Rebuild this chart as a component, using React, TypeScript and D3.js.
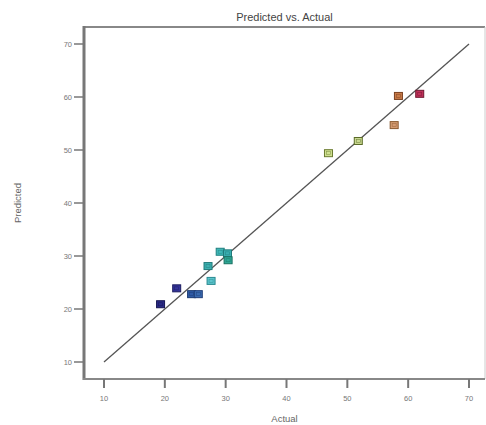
import React from "react";
import * as d3 from "d3";

const actual = [19.3, 21.95, 24.4, 25.5, 27.6, 27.1, 29.1, 30.3, 30.4, 46.9, 51.8, 57.7, 58.4, 61.9];
const predicted = [20.9, 23.9, 22.8, 22.8, 25.3, 28.1, 30.8, 30.5, 29.2, 49.4, 51.7, 54.7, 60.2, 60.6];
const fills = ["#2a2a86", "#34349a", "#2f5aa6", "#3a6ab0", "#5cc4cc", "#3eb0b0", "#40b8b8", "#3aaeb0", "#30a898", "#cfe090", "#c8d890", "#d49a70", "#c87a48", "#c0305a"];
const strokes = ["#141450", "#1c1c60", "#1a3a70", "#203e78", "#2a8a90", "#207a7a", "#208080", "#207a7a", "#187060", "#6a7a30", "#5a6a28", "#8a5a30", "#7a4020", "#701830"];
const ticks = [10, 20, 30, 40, 50, 60, 70];

export default function App() {
  const W = 486, H = 425;
  const left = 84, right = 485, top = 27, bottom = 379;
  const x = d3.scaleLinear().domain([10, 70]).range([104, 469]);
  const y = d3.scaleLinear().domain([10, 70]).range([362, 44]);
  const line = d3.line<number>().x(d => x(d)).y(d => y(d));
  const sw = 8, sh = 7;
  return (
    <svg width={W} height={H} style={{ position: "absolute", left: 0, top: 0, fontFamily: "Liberation Sans, Arial, sans-serif" }}>
      <rect x={0} y={0} width={W} height={H} fill="#fff" />
      <text x={(left + right) / 2} y={21} textAnchor="middle" fontSize={11} fill="#444">Predicted vs. Actual</text>
      {/* frame */}
      <line x1={left} y1={top} x2={right} y2={top} stroke="#888" strokeWidth={2} />
      <line x1={right} y1={top} x2={right} y2={bottom} stroke="#ccc" strokeWidth={1} />
      <line x1={left} y1={top - 1} x2={left} y2={bottom + 1} stroke="#777" strokeWidth={3} />
      <line x1={left - 1} y1={bottom} x2={right} y2={bottom} stroke="#888" strokeWidth={2} />
      {/* x ticks */}
      {ticks.map(t => (
        <g key={"x" + t}>
          <line x1={x(t)} y1={bottom} x2={x(t)} y2={bottom + 9} stroke="#777" strokeWidth={2} />
          <text x={x(t)} y={401} textAnchor="middle" fontSize={7.5} fill="#777">{t}</text>
        </g>
      ))}
      {/* y ticks */}
      {ticks.map(t => (
        <g key={"y" + t}>
          <line x1={left - 10} y1={y(t)} x2={left} y2={y(t)} stroke="#777" strokeWidth={1.5} />
          <text x={72} y={y(t) + 2.5} textAnchor="end" fontSize={7.5} fill="#777">{t}</text>
        </g>
      ))}
      <text x={(left + right) / 2} y={422} textAnchor="middle" fontSize={9.5} fill="#666">Actual</text>
      <text transform={`translate(21,${(top + bottom) / 2}) rotate(-90)`} textAnchor="middle" fontSize={9.5} fill="#666">Predicted</text>
      {/* y = x line */}
      <path d={line([10, 70]) || ""} stroke="#555" strokeWidth={1.3} fill="none" />
      {/* points */}
      {actual.map((a, i) => (
        <g key={i}>
          <rect x={x(a) - sw / 2} y={y(predicted[i]) - sh / 2} width={sw} height={sh}
            fill={fills[i]} stroke={strokes[i]} strokeWidth={1} />
          <rect x={x(a) - 2} y={y(predicted[i]) - 1.5} width={4} height={3}
            fill="none" stroke={strokes[i]} strokeWidth={0.6} opacity={0.7} />
        </g>
      ))}
    </svg>
  );
}
